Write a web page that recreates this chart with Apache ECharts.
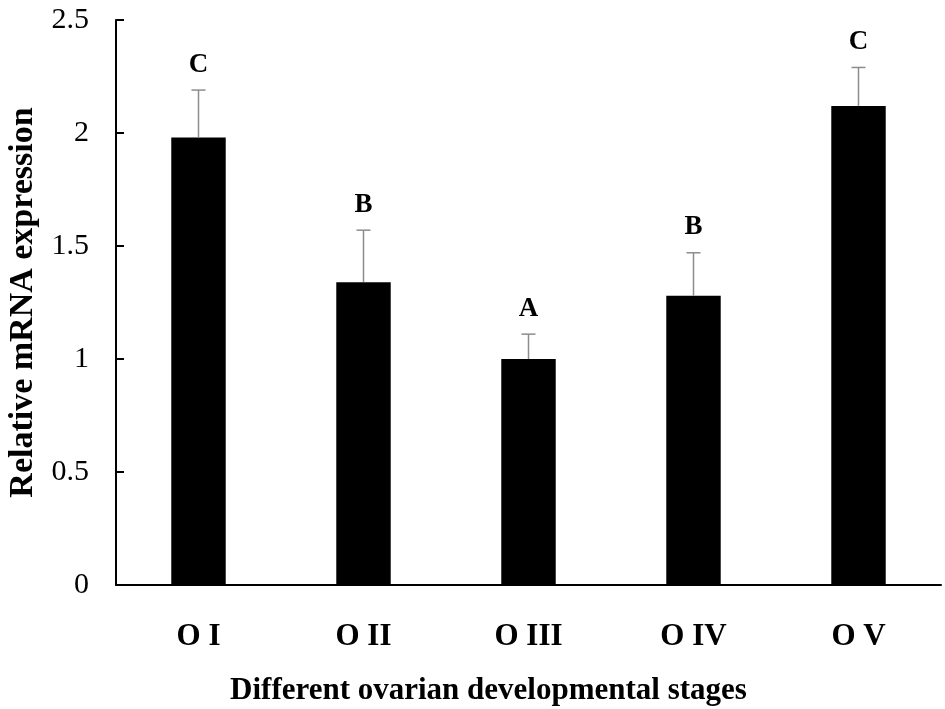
<!DOCTYPE html>
<html>
<head>
<meta charset="utf-8" />
<title>Relative mRNA expression</title>
<script type="text/javascript" src="https://cdn.jsdelivr.net/npm/echarts@6/dist/echarts.min.js"></script>
<style type="text/css">
	html, body { margin: 0; padding: 0; background: #fff; }
	#main { width: 945px; height: 709px; }
</style>
</head>
<body>
<div id="main"></div>
<script type="text/javascript">
	// data
	var stages = ['O I', 'O II', 'O III', 'O IV', 'O V'];
	var means = [1.98, 1.34, 1.00, 1.28, 2.12];
	var errs = [0.21, 0.23, 0.11, 0.19, 0.17];
	var letters = ['C', 'B', 'A', 'B', 'C'];
	var yTicks = [0, 0.5, 1, 1.5, 2, 2.5];

	var font = '"Liberation Serif", "Times New Roman", serif';

	var errData = [];
	for (var i = 0; i < stages.length; i++) {
		errData.push([i, means[i], errs[i]]);
	}

	var myChart = echarts.init(document.getElementById('main'));
	var option = {
		animation: false,
		grid: {
			left: 116,
			right: 4,
			top: 20,
			bottom: 124,
			outerBoundsMode: 'none',
			containLabel: false
		},
		xAxis: {
			type: 'category',
			data: stages,
			name: 'Different ovarian developmental stages',
			nameLocation: 'middle',
			nameGap: 90,
			nameTextStyle: {
				fontFamily: font,
				fontWeight: 'bold',
				fontSize: 31,
				color: '#000',
				padding: [0, 80, 0, 0]
			},
			axisLine: { lineStyle: { color: '#000', width: 2 } },
			axisTick: { inside: true, length: 10, lineStyle: { color: '#000', width: 2 } },
			axisLabel: {
				fontFamily: font,
				fontWeight: 'bold',
				fontSize: 31,
				color: '#000',
				margin: 36
			}
		},
		yAxis: {
			type: 'value',
			min: yTicks[0],
			max: yTicks[yTicks.length - 1],
			interval: 0.5,
			name: 'Relative mRNA expression',
			nameLocation: 'middle',
			nameGap: 76,
			nameTextStyle: {
				fontFamily: font,
				fontWeight: 'bold',
				fontSize: 34,
				color: '#000'
			},
			splitLine: { show: false },
			axisLine: { show: true, lineStyle: { color: '#000', width: 2 } },
			axisTick: { show: true, inside: true, length: 8, lineStyle: { color: '#000', width: 2 } },
			axisLabel: {
				fontFamily: font,
				fontSize: 30,
				color: '#000',
				margin: 27
			}
		},
		series: [{
			name: 'mean',
			type: 'bar',
			data: means,
			barWidth: '33%',
			itemStyle: { color: '#000' }
		}, {
			name: 'error',
			type: 'custom',
			data: errData,
			encode: { x: 0, y: 1 },
			z: 5,
			renderItem: function (params, api) {
				var idx = api.value(0);
				var base = api.coord([idx, api.value(1)]);
				var top = api.coord([idx, api.value(1) + api.value(2)]);
				var grey = { stroke: '#8c8c8c', lineWidth: 1.5 };
				return {
					type: 'group',
					children: [{
						type: 'line',
						shape: { x1: base[0], y1: base[1], x2: top[0], y2: top[1] },
						style: grey
					}, {
						type: 'line',
						shape: { x1: top[0] - 7, y1: top[1], x2: top[0] + 7, y2: top[1] },
						style: grey
					}, {
						type: 'text',
						style: {
							x: top[0],
							y: top[1] - 12,
							text: letters[params.dataIndex],
							fill: '#000',
							font: 'bold 27px ' + font,
							textAlign: 'center',
							textVerticalAlign: 'bottom'
						}
					}]
				};
			}
		}]
	};
	myChart.setOption(option, true);
</script>
</body>
</html>
